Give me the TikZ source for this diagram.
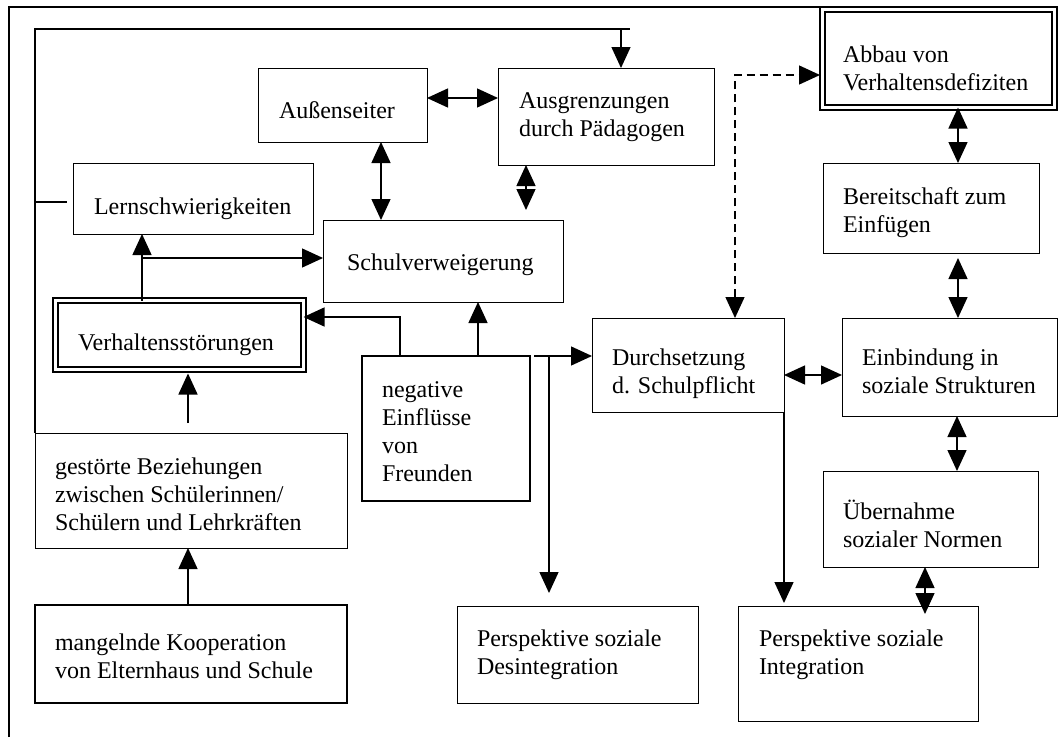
\documentclass[tikz,border=0pt]{standalone}
\usepackage{fontspec}
\setmainfont{Liberation Serif}
\usetikzlibrary{arrows.meta}

\tikzset{
  box/.style={draw, rectangle, line width=1pt, inner sep=0pt, outer sep=0pt},
  heavybox/.style={box, line width=1.5pt},
  doublebox/.style={box, double, line width=1.3pt, double distance=3.7pt},
  % multi-line texts are placed by the baseline of their last line
  txt/.style={inner sep=0pt, outer sep=0pt, anchor=base west, align=left,
    font=\fontsize{24}{28}\selectfont},
  tip/.tip={Triangle[length=21pt,width=19pt]},
  link/.style={line width=1.4pt},
  arrow/.style={link, -tip},
  twoway/.style={link, tip-tip},
}

% \boxat[style]{name}{x1}{y1}{x2}{y2}: rectangle node from top-left to bottom-right
\newcommand\boxat[6][box]{%
  \node[#1, anchor=north west, minimum width={(#5)-(#3)}, minimum height={(#6)-(#4)}]
    (#2) at (#3,#4) {};}

\begin{document}
\begin{tikzpicture}[x=1pt, y=-1pt]
\useasboundingbox (0,0) rectangle (1061,737);

% outer frame
\draw[line width=1.6pt] (9,737) -- (9,7) -- (1058,7);

% boxes
\boxat{aussen}{258}{68}{427}{142}
\boxat{ausgr}{498}{68}{714}{165}
\boxat{lern}{73}{163}{313}{234}
\boxat{schul}{323}{220}{563}{302}
\boxat[doublebox]{verh}{55.5}{300.5}{303.5}{369.5}
\boxat{gest}{35}{433}{347}{548}
\boxat[heavybox]{koop}{35}{605}{347}{703}
\boxat[heavybox]{neg}{362}{356}{530}{501}
\boxat{durch}{592}{318}{784}{412}
\boxat{desint}{457}{606}{698}{703}
\boxat{integ}{738}{606}{978}{721}
\boxat[doublebox]{abbau}{822.5}{9.5}{1054.5}{107.5}
\boxat{bereit}{823}{163}{1039}{253}
\boxat{einb}{842}{318}{1057}{416}
\boxat{uebern}{823}{471}{1038}{567}

% texts
\node[txt] (t-aussen) at (279,118) {Außenseiter};
\node[txt] (t-ausgr) at (519,136) {Ausgrenzungen\\durch Pädagogen};
\node[txt] (t-lern) at (94,214) {Lernschwierigkeiten};
\node[txt] (t-schul) at (347,270) {Schulverweigerung};
\node[txt] (t-verh) at (78,350) {Verhaltensstörungen};
\node[txt] (t-gest) at (55,530) {gestörte Beziehungen\\zwischen Schülerinnen/\\Schülern und Lehrkräften};
\node[txt] (t-koop) at (55,678) {mangelnde Kooperation\\von Elternhaus und Schule};
\node[txt] (t-neg) at (382,481) {negative\\Einflüsse\\von\\Freunden};
\node[txt] (t-durch) at (612,393) {Durchsetzung\\d. Schulpflicht};
\node[txt] (t-desint) at (477,674) {Perspektive soziale\\Desintegration};
\node[txt] (t-integ) at (759,674) {Perspektive soziale\\Integration};
\node[txt] (t-abbau) at (843,90) {Abbau von\\Verhaltensdefiziten};
\node[txt] (t-bereit) at (843,232) {Bereitschaft zum\\Einfügen};
\node[txt] (t-einb) at (862,393) {Einbindung in\\soziale Strukturen};
\node[txt] (t-uebern) at (843,547) {Übernahme\\sozialer Normen};

% free ends of connectors
\coordinate (loopTL) at (35,29);
\coordinate (loopTR) at (630,29);
\coordinate (loopDrop) at (621,29);
\coordinate (stubL) at (35,202);
\coordinate (stubR) at (67,202);
\coordinate (ausgrEnd) at (526,210);
\coordinate (verhTap) at (142,258);
\coordinate (negOut) at (534,356);
\coordinate (split) at (549,356);
\coordinate (gestTop) at (188,423);
\coordinate (dashCorner) at (735,75);

% feedback loop along the top
\draw[link] (gest.north west) -- (loopTL) -- (loopTR);
\draw[arrow] (loopDrop) -- (loopDrop |- ausgr.north);
\draw[link] (stubL) -- (stubR);

% left cluster
\draw[twoway] (aussen.east |- 0,98) -- (ausgr.west |- 0,98);
\draw[twoway] (aussen.south -| 381,0) -- (schul.north -| 381,0);
\draw[twoway] (ausgr.south -| ausgrEnd) -- (ausgrEnd);
\draw[arrow] (verh.north -| verhTap) -- (lern.south -| verhTap);
\draw[arrow] (verhTap) -- (schul.west |- verhTap);
\draw[arrow] (neg.north -| 400,0) -- (400,317) -- (verh.east |- 0,317);
\draw[arrow] (neg.north -| 478,0) -- (schul.south -| 478,0);
\draw[arrow, shorten >=4pt] (gestTop) -- (verh.south -| gestTop);
\draw[arrow] (koop.north -| gestTop) -- (gest.south -| gestTop);

% middle
\draw[arrow] (negOut) -- (durch.west |- negOut);
\draw[arrow, shorten >=13pt] (split) -- (split |- desint.north);
\draw[arrow, shorten >=3pt] (durch.south east) -- (durch.south east |- integ.north);
\draw[link, dash pattern=on 8pt off 5pt, tip-tip, shorten >=2.5pt]
  (durch.north -| dashCorner) -- (dashCorner) -- (abbau.west |- dashCorner);

% right column
\draw[twoway] (abbau.south -| 958,0) -- (bereit.north -| 958,0);
\draw[twoway, shorten <=5pt] (bereit.south -| 958,0) -- (einb.north -| 958,0);
\draw[twoway] (durch.east |- 0,375) -- (einb.west |- 0,375);
\draw[twoway] (einb.south -| 957,0) -- (uebern.north -| 957,0);
\draw[twoway, shorten >=-8pt] (uebern.south -| 925,0) -- (integ.north -| 925,0);

\end{tikzpicture}
\end{document}
